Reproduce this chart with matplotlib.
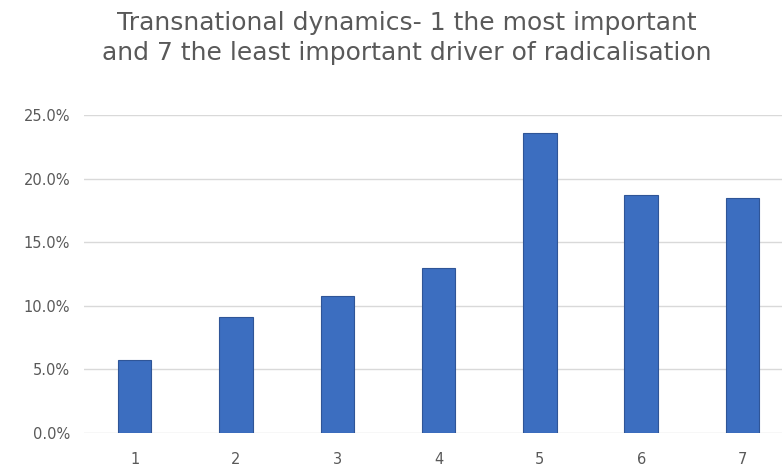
import matplotlib
matplotlib.use('Agg')
import matplotlib.pyplot as plt
from matplotlib.ticker import FuncFormatter

# ranks 1..7 and share of respondents (%)
ranks = ['1', '2', '3', '4', '5', '6', '7']
shares = [5.7, 9.1, 10.8, 13.0, 23.6, 18.7, 18.5]
yticks = [0, 5, 10, 15, 20, 25]

title = ('Transnational dynamics- 1 the most important\n'
         'and 7 the least important driver of radicalisation')

grey = '#595959'

fig = plt.figure(figsize=(7.82, 4.76), dpi=100)
ax = fig.add_axes([84/782, 1-433/476, (782-84)/782, (433-115)/476])

x = range(len(ranks))
ax.bar(x, shares, width=0.33, color='#3c6ec0', edgecolor='#2f5597', linewidth=0.8, zorder=3)

ax.set_ylim(0, 25)
ax.set_xlim(-0.5, 6.39)
ax.set_yticks(yticks)
ax.yaxis.set_major_formatter(FuncFormatter(lambda v, p: '%.1f%%' % v))
ax.set_xticks(list(x))
ax.set_xticklabels(ranks)
ax.grid(axis='y', color='#d9d9d9', linewidth=1, zorder=0)
for s in ax.spines.values():
    s.set_visible(False)
ax.tick_params(length=0, colors=grey, labelsize=10.5)
ax.tick_params(axis='y', pad=10)
ax.tick_params(axis='x', pad=14)

fig.text(0.52, 0.977, title, ha='center', va='top', fontsize=18, color=grey,
         linespacing=1.3)

fig.savefig('out.png', dpi=100)
